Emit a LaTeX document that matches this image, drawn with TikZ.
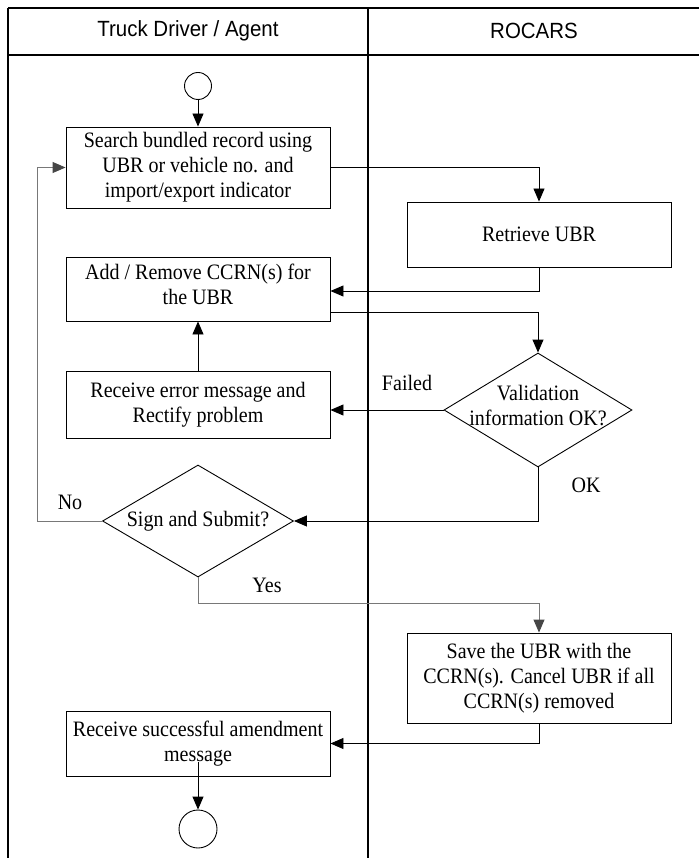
\documentclass[tikz,border=0pt]{standalone}
\usepackage{fontspec}
\setmainfont{Liberation Serif}[FakeStretch=0.91]
\newfontfamily\hdrfont{Liberation Sans}[FakeStretch=0.93]
\usetikzlibrary{arrows.meta,shapes.geometric}
\definecolor{linegray}{RGB}{120,120,120}
\definecolor{tipgray}{RGB}{70,70,70}
\begin{document}
\begin{tikzpicture}[x=1pt,y=-1pt,
  frame/.style={line width=1.2pt, black},
  txt/.style={font=\fontsize{22}{25}\selectfont, align=center, inner sep=0pt},
  box/.style={draw, line width=0.9pt, minimum width=264pt, inner sep=0pt, align=center, font=\fontsize{22}{25}\selectfont},
  dia/.style={draw, diamond, line width=0.9pt, inner sep=0pt},
  term/.style={draw, circle, line width=0.9pt, inner sep=0pt},
  hdr/.style={font=\hdrfont\fontsize{22}{24}\selectfont, inner sep=0pt},
  arr/.style={line width=0.9pt, -{Triangle[length=13pt,width=11pt]}},
  garr/.style={line width=0.9pt, linegray, -{Triangle[length=13pt,width=11pt,color=tipgray]}}
]
\useasboundingbox (0,0) rectangle (699,858);
% swimlanes
\draw[frame] (8,8) -- (699,8);
\draw[frame] (8,55) -- (699,55);
\draw[frame] (8,8) -- (8,858);
\draw[frame] (368,8) -- (368,858);
\node[hdr] (h1) at (188,31) {Truck Driver / Agent};
\node[hdr] (h2) at (534,31) {ROCARS};

% nodes
\node[term, minimum size=27pt] (start) at (198,86) {};
\node[box, minimum height=81pt] (b1) at (198,167.5) {Search bundled record using\\UBR or vehicle no. and\\import/export indicator};
\node[box, minimum height=65pt] (b2) at (539,234.5) {Retrieve UBR};
\node[box, minimum height=64pt] (b3) at (198,289) {};
\node[txt] (b3t) at (198,284) {Add / Remove CCRN(s) for\\the UBR};
\node[dia, minimum width=188pt, minimum height=114pt] (d1) at (538,410) {};
\node[txt] (d1t) at (538,406) {Validation\\information OK?};
\node[box, minimum height=67pt] (b4) at (198,404.5) {Receive error message and\\Rectify problem};
\node[dia, minimum width=191pt, minimum height=112pt] (d2) at (198,521) {};
\node[txt] (d2t) at (198,521) {Sign and Submit?};
\node[box, minimum height=90pt] (b5) at (539,678) {Save the UBR with the\\CCRN(s). Cancel UBR if all\\CCRN(s) removed};
\node[box, minimum height=65pt] (b6) at (198,743.5) {Receive successful amendment\\message};
\node[term, minimum size=38pt] (end) at (198,829) {};

% labels
\node[txt] (lfail) at (407,383) {Failed};
\node[txt] (lok) at (586,485) {OK};
\node[txt] (lno) at (70,502) {No};
\node[txt] (lyes) at (267,585) {Yes};

% connectors
\draw[arr] (start) -- (b1);
\draw[arr] (b1.east) -| (b2.north);
\draw[arr] (b2.south) |- ([yshift=-2pt]b3.east);
\draw[arr] ([yshift=-23pt]b3.east) -| (d1.north);
\draw[arr] (d1.west) -- (d1.west -| b4.east);
\draw[arr] (b4.north) -- (b3.south);
\draw[arr] (d1.south) |- (d2.east);
\coordinate (nocorner) at (37,521);
\draw[garr] (d2.west) -- (nocorner) |- (b1.west);
\coordinate (yescorner) at (198,603);
\draw[garr] (d2.south) -- (yescorner) -| (b5.north);
\draw[arr] (b5.south) |- (b6.east);
\coordinate (m) at (198,762);
\draw[arr] (m) -- (end.north);
\end{tikzpicture}
\end{document}
